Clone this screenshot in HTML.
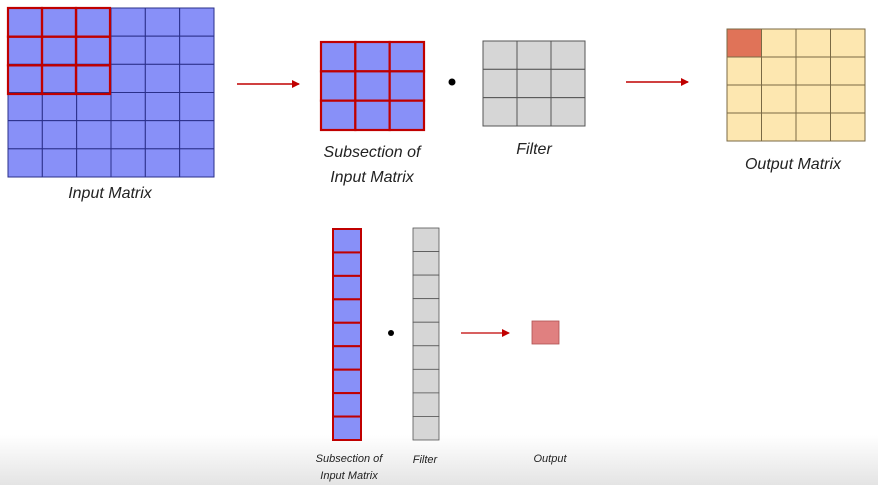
<!DOCTYPE html>
<html><head><meta charset="utf-8"><style>
html,body{margin:0;padding:0;background:#fff;width:878px;height:485px;overflow:hidden}
svg{display:block}
text{font-family:"Liberation Sans",sans-serif;font-style:italic;fill:#222}
</style></head><body>
<svg id="s" width="878" height="485" xmlns="http://www.w3.org/2000/svg">
<defs>
<linearGradient id="bg" x1="0" y1="0" x2="0" y2="1"><stop offset="0" stop-color="#fff"/><stop offset="1" stop-color="#e4e4e4"/></linearGradient>
<marker id="ah" markerWidth="8" markerHeight="8" refX="7" refY="4" orient="auto" markerUnits="userSpaceOnUse"><path d="M0,0L8,4L0,8Z" fill="#c00000"/></marker>
</defs>
<rect x="0" y="435" width="878" height="50" fill="url(#bg)"/>
<g id="g"></g>
<text x="110" y="198" font-size="16" text-anchor="middle">Input Matrix</text>
<text x="372" y="157" font-size="16" text-anchor="middle">Subsection of</text>
<text x="372" y="182" font-size="16" text-anchor="middle">Input Matrix</text>
<text x="534" y="154" font-size="16" text-anchor="middle">Filter</text>
<text x="793" y="169" font-size="16" text-anchor="middle">Output Matrix</text>
<text x="349" y="462" font-size="11" text-anchor="middle">Subsection of</text>
<text x="349" y="479" font-size="11" text-anchor="middle">Input Matrix</text>
<text x="425" y="463" font-size="11" text-anchor="middle">Filter</text>
<text x="550" y="462" font-size="11" text-anchor="middle">Output</text>
<line x1="237" y1="84" x2="299" y2="84" stroke="#c00000" stroke-width="1.5" marker-end="url(#ah)"/>
<line x1="626" y1="82" x2="688" y2="82" stroke="#c00000" stroke-width="1.5" marker-end="url(#ah)"/>
<line x1="461" y1="333" x2="509" y2="333" stroke="#c00000" stroke-width="1.2" marker-end="url(#ah)"/>
<circle cx="452" cy="82" r="3.5" fill="#000"/>
<circle cx="391" cy="333" r="3" fill="#000"/>
<rect x="532" y="321" width="27" height="23" fill="#e08080" stroke="#b05050" stroke-width="0.8"/>
</svg>
<script>
const g=document.getElementById('g');
const NS='http://www.w3.org/2000/svg';
function grid(name,x,y,w,h,cols,rows,fill,stroke,sw,special){
  const cw=w/cols,ch=h/rows;
  for(let r=0;r<rows;r++)for(let c=0;c<cols;c++){
    const el=document.createElementNS(NS,'rect');
    el.setAttribute('x',x+c*cw);el.setAttribute('y',y+r*ch);
    el.setAttribute('width',cw);el.setAttribute('height',ch);
    el.setAttribute('fill',special&&special(r,c)||fill);
    el.setAttribute('stroke',stroke);el.setAttribute('stroke-width',sw);
    
    
    g.appendChild(el);
  }
}
grid('input-matrix',8,8,206,169,6,6,'#8890f8','#2a2f8a',1);
grid('input-highlight',8,8,102,86,3,3,'none','#c00000',2.2);
grid('subsection',321,42,103,88,3,3,'#8890f8','#c00000',2.2);
grid('filter',483,41,102,85,3,3,'#d6d6d6','#555',1);
grid('output-matrix',727,29,138,112,4,4,'#fde7b0','#7a6a45',1,(r,c)=>r==0&&c==0?'#e07358':null);
grid('subsection-column',333,229,28,211,1,9,'#8890f8','#c00000',2);
grid('filter-column',413,228,26,212,1,9,'#d6d6d6','#555',0.8);
</script>
</body></html>
